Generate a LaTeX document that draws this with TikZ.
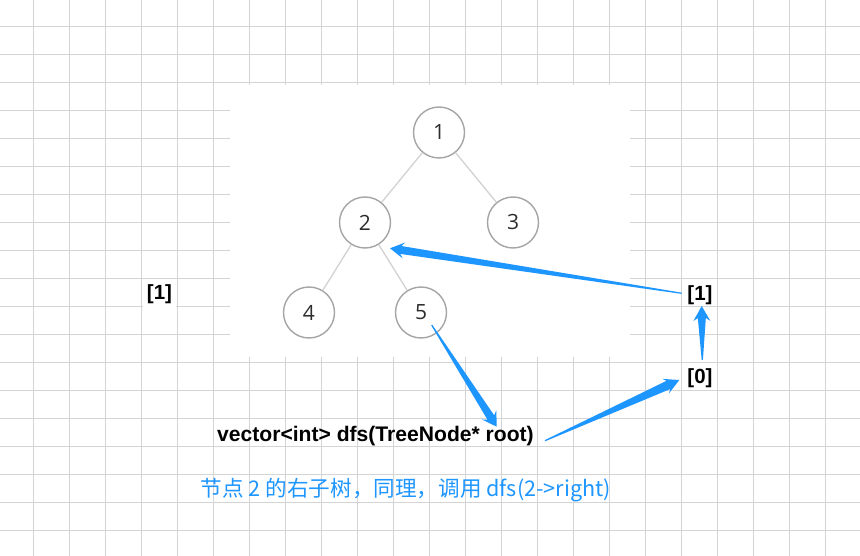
\documentclass[tikz,border=0pt]{standalone}
\usepackage{fontspec}
\setmainfont{Liberation Sans}
\newfontfamily\cjk{Noto Sans CJK SC}
\newfontfamily\treefont{Open Sans}
\usetikzlibrary{calc}
\definecolor{gridgray}{RGB}{212,212,212}
\definecolor{circgray}{RGB}{165,165,165}
\definecolor{edgegray}{RGB}{210,210,210}
\definecolor{numgray}{RGB}{45,45,45}
\definecolor{arrowblue}{RGB}{30,150,255}
\newcommand\tarrow[7]{%
  \coordinate (taS) at ($(#2)!#5!(#1)$);
  \coordinate (taH) at ($(#2)!#6!(#1)$);
  \fill[arrowblue] ($(#1)!#3!90:(#2)$) -- ($(taS)!#4!90:(#2)$) -- ($(taH)!#7!90:(#2)$) -- (#2)
     -- ($(taH)!#7!-90:(#2)$) -- ($(taS)!#4!-90:(#2)$) -- ($(#1)!#3!-90:(#2)$) -- cycle;
}
\begin{document}
\begin{tikzpicture}[x=1pt,y=-1pt,
  tnode/.style={circle,draw=circgray,line width=1.4pt,minimum size=51pt,inner sep=0pt,fill=white,
     text=numgray,font=\treefont\fontsize{21pt}{24pt}\selectfont},
  tedge/.style={draw=edgegray,line width=1.3pt},
  lab/.style={font=\bfseries\fontsize{20.5pt}{24pt}\selectfont,text=black,fill=white,inner sep=1pt},
  code/.style={font=\bfseries\fontsize{21.1pt}{24pt}\selectfont,text=black,inner sep=0pt},
  btext/.style={font=\cjk\fontsize{21.6pt}{25pt}\selectfont,text=arrowblue,inner sep=0pt}]
\useasboundingbox (0,0) rectangle (860,556);
\fill[white] (0,0) rectangle (860,556);
% grid
\foreach \k in {0,...,22} {\draw[gridgray,line width=1.2pt] ({33.3+36*\k},0) -- ({33.3+36*\k},556);}
\foreach \k in {0,...,18} {\draw[gridgray,line width=1.2pt] (0,{26.3+28*\k}) -- (860,{26.3+28*\k});}
\fill[white] (230,85.5) rectangle (630,356.5);
% tree
\node[tnode] (n1) at (439,132.5) {1};
\node[tnode] (n2) at (365,222.5) {2};
\node[tnode] (n3) at (513,222.5) {3};
\node[tnode] (n4) at (309,312.5) {4};
\node[tnode] (n5) at (421,312.5) {5};
\draw[tedge] (n1) -- (n2);
\draw[tedge] (n1) -- (n3);
\draw[tedge] (n2) -- (n4);
\draw[tedge] (n2) -- (n5);
% labels
\node[lab,minimum width=33pt,minimum height=25pt] (lL) at (159.5,294.5) {[1]};
\node[lab] (r1) at (700,295.5) {[1]};
\node[lab] (r0) at (700,378) {[0]};
\node[code,anchor=base west] (code) at (217,441.7) {vector<int> dfs(TreeNode* root)};
\node[btext,anchor=base west] (note) at (200.7,496.7) {节点 2 的右子树，同理，调用 dfs(2->right)};
% arrows
\coordinate (a1s) at (681.7,293.3);
\coordinate (a1e) at (390,248.3);
\coordinate (a2s) at (431.7,325);
\coordinate (a2e) at (496.7,426.7);
\coordinate (a3s) at (545,440.7);
\coordinate (a3e) at (679.3,380);
\coordinate (a4s) at (702.3,360);
\coordinate (a4e) at (701.7,306);
\tarrow{a1s}{a1e}{0.6pt}{4pt}{11pt}{14pt}{8pt}
\tarrow{a2s}{a2e}{0.6pt}{4pt}{11pt}{14pt}{8.5pt}
\tarrow{a3s}{a3e}{0.6pt}{4.5pt}{12pt}{15pt}{8pt}
\tarrow{a4s}{a4e}{0.6pt}{4pt}{12pt}{15pt}{8.5pt}
\end{tikzpicture}
\end{document}
